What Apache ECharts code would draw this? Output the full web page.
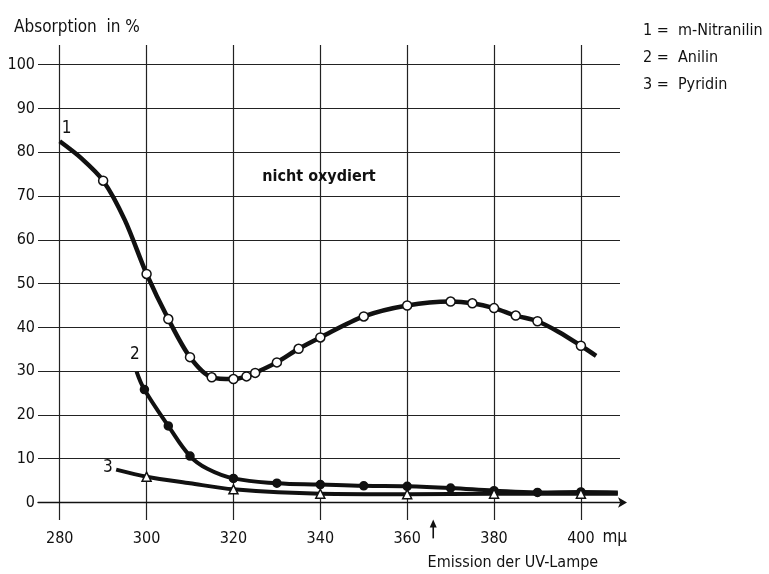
<!DOCTYPE html>
<html lang="de">
<head>
    <meta charset="UTF-8">
    <title>Absorption</title>
    <script src="https://cdn.jsdelivr.net/npm/echarts/dist/echarts.min.js"></script>
    <style>
        html, body { margin: 0; padding: 0; background: #fff; }
        #chart { width: 769px; height: 574px; }
    </style>
</head>
<body>
    <div id="chart"></div>

    <script>
        // Wellenlaenge in m\u03bc, Absorption in %
        const compounds = ['m-Nitranilin', 'Anilin', 'Pyridin'];

        // measured points (drawn with a marker)
        const nitroX = [290, 300, 305, 310, 315, 320, 323, 325, 330, 335, 340, 350, 360, 370, 375, 380, 385, 390, 400];
        const nitroY = [73.5, 52.2, 41.9, 33.2, 28.6, 28.2, 28.8, 29.6, 32.0, 35.1, 37.7, 42.5, 45.0, 45.9, 45.5, 44.4, 42.7, 41.4, 35.8];
        // further points (no marker)
        const nitroTraceX = [280, 285, 295, 395, 403.5];
        const nitroTraceY = [82.5, 78.6, 64.5, 38.9, 33.5];

        const anilinX = [299.5, 305, 310, 320, 330, 340, 350, 360, 370, 380, 390, 400];
        const anilinY = [25.8, 17.5, 10.6, 5.5, 4.4, 4.1, 3.8, 3.7, 3.3, 2.7, 2.3, 2.4];
        const anilinTraceX = [297.7, 314, 408.5];
        const anilinTraceY = [29.9, 7.7, 2.3];

        const pyridinX = [300, 320, 340, 360, 380, 400];
        const pyridinY = [5.9, 3.0, 2.0, 1.9, 2.0, 2.0];
        const pyridinTraceX = [293, 310, 408.5];
        const pyridinTraceY = [7.5, 4.4, 2.0];

        const xTicks = [280, 300, 320, 340, 360, 380, 400];
        const yTicks = [0, 10, 20, 30, 40, 50, 60, 70, 80, 90, 100];

        const lampWavelength = 366;

        const font = "'Liberation Sans Narrow', 'DejaVu Sans Condensed', sans-serif";
        const ink = '#111';

        // merge measured and traced points, markers only on measured ones
        function points(xs, ys, tx, ty) {
            let items = xs.map((x, i) => ({ value: [x, ys[i]] }));
            tx.forEach((x, i) => items.push({ value: [x, ty[i]], symbol: 'none' }));
            return items.sort((a, b) => a.value[0] - b.value[0]);
        }

        function curve(name, data, symbol, size, fill, width, smooth) {
            return {
                name: name,
                type: 'line',
                smooth: smooth,
                data: data,
                symbol: symbol,
                symbolSize: size,
                showAllSymbol: true,
                lineStyle: { color: ink, width: width },
                itemStyle: { color: fill, borderColor: ink, borderWidth: 1.5 },
                emphasis: { disabled: true },
                z: 3
            };
        }

        let chart = echarts.init(document.getElementById('chart'));

        let option = {
            backgroundColor: '#fff',
            animation: false,
            textStyle: { fontFamily: font, color: ink },
            title: {
                text: 'Absorption  in %',
                left: 9,
                top: 14,
                textStyle: { fontFamily: font, fontSize: 17, fontWeight: 'normal', color: ink }
            },
            legend: {
                data: compounds,
                orient: 'vertical',
                left: 632,
                top: 16,
                icon: 'rect',
                itemWidth: 0,
                itemHeight: 18,
                itemGap: 7,
                selectedMode: false,
                itemStyle: { opacity: 0 },
                lineStyle: { opacity: 0 },
                formatter: name => (compounds.indexOf(name) + 1) + ' =  ' + name,
                textStyle: { fontFamily: font, fontSize: 16, color: ink }
            },
            grid: { left: 38, right: 149, top: 45, bottom: 54 },
            xAxis: {
                type: 'value',
                min: 275,
                max: 409,
                axisLine: {
                    onZero: true,
                    symbol: ['none', 'arrow'],
                    symbolSize: [8, 9],
                    symbolOffset: [0, 7],
                    lineStyle: { color: ink, width: 1.3 }
                },
                axisTick: { show: false, customValues: xTicks },
                axisLabel: {
                    customValues: xTicks,
                    margin: 11,
                    fontFamily: font,
                    fontSize: 16,
                    color: ink
                },
                splitLine: { show: true, lineStyle: { color: '#222', width: 1.2 } }
            },
            yAxis: {
                type: 'value',
                min: -4,
                max: 104.5,
                axisLine: { show: false },
                axisTick: { show: false, customValues: yTicks },
                axisLabel: {
                    customValues: yTicks,
                    margin: 3,
                    fontFamily: font,
                    fontSize: 16,
                    color: ink
                },
                splitLine: { show: true, lineStyle: { color: '#222', width: 1.2 } }
            },
            series: [
                curve(compounds[0], points(nitroX, nitroY, nitroTraceX, nitroTraceY), 'circle', 9, '#fff', 4.5, 0.3),
                curve(compounds[1], points(anilinX, anilinY, anilinTraceX, anilinTraceY), 'circle', 8, ink, 4, 0.4),
                curve(compounds[2], points(pyridinX, pyridinY, pyridinTraceX, pyridinTraceY), 'triangle', 9, '#fff', 4, 0.3),
                {
                    name: 'notes',
                    type: 'scatter',
                    silent: true,
                    clip: false,
                    symbolSize: 0,
                    itemStyle: { opacity: 1 },
                    z: 5,
                    label: {
                        show: true,
                        position: 'inside',
                        formatter: p => p.name,
                        fontFamily: font,
                        fontSize: 17,
                        color: ink
                    },
                    data: [
                        { name: '1', value: [281.6, 85.5] },
                        { name: '2', value: [297.3, 33.7] },
                        { name: '3', value: [291.1, 7.9] },
                        { name: 'nicht oxydiert', value: [339.7, 74.3], label: { fontWeight: 'bold', fontSize: 16 } },
                        { name: 'm\u03bc', value: [407.8, -8] },
                        { name: 'Emission der UV-Lampe', value: [364.7, -13.8], label: { align: 'left', fontSize: 16 } }
                    ]
                }
            ]
        };

        chart.setOption(option);

        // arrow marking the lamp emission, placed through the axes
        let tip = chart.convertToPixel({ gridIndex: 0 }, [lampWavelength, -3.9]);
        let foot = chart.convertToPixel({ gridIndex: 0 }, [lampWavelength, -8.2]);
        chart.setOption({
            graphic: [
                {
                    type: 'line',
                    shape: { x1: foot[0], y1: foot[1], x2: tip[0], y2: tip[1] + 6 },
                    style: { stroke: ink, lineWidth: 1.6 },
                    silent: true
                },
                {
                    type: 'polygon',
                    shape: { points: [[tip[0], tip[1]], [tip[0] - 3.5, tip[1] + 8], [tip[0] + 3.5, tip[1] + 8]] },
                    style: { fill: ink },
                    silent: true
                }
            ]
        });
    </script>
</body>
</html>
